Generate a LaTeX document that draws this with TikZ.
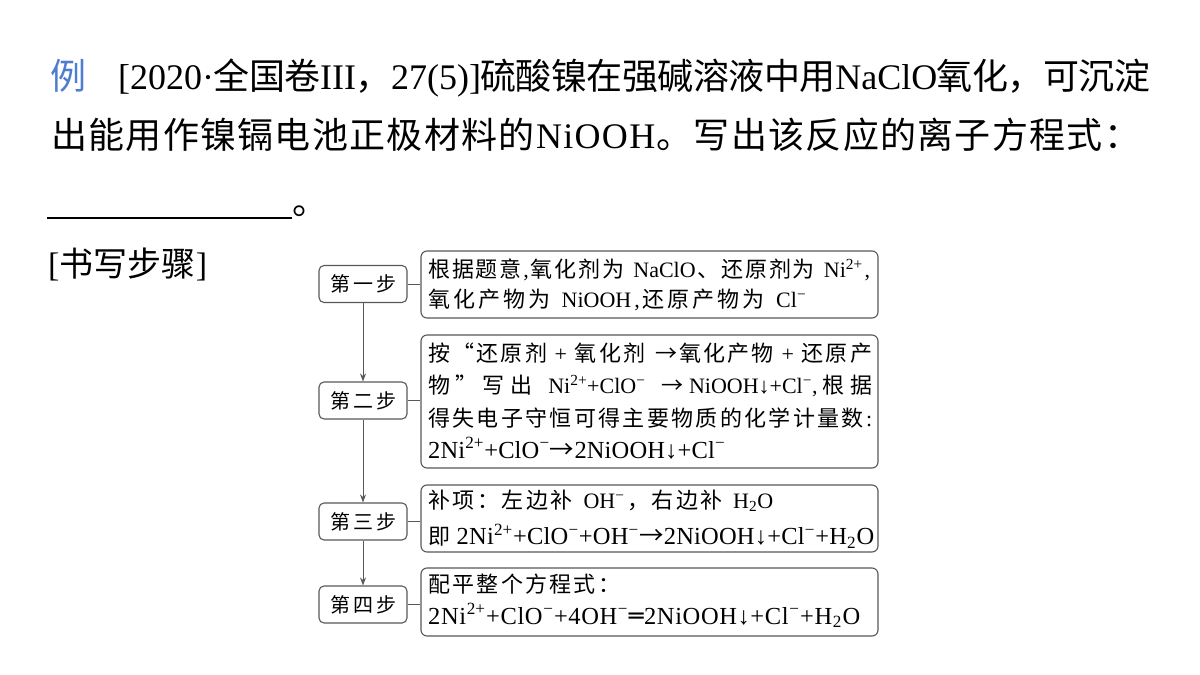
\documentclass[tikz,border=0pt]{standalone}
\usepackage{fontspec}
\setmainfont{Liberation Serif}
\newfontfamily\cjk{Noto Sans CJK SC}
\newfontfamily\djv{DejaVu Sans}
\usetikzlibrary{arrows.meta}
\definecolor{linegray}{RGB}{88,88,88}
\definecolor{liblue}{RGB}{78,124,208}
\let\sprStop\relax
\def\sprStopMark{\sprStop}
\def\sprX#1{\def\sprArg{#1}\ifx\sprArg\sprStopMark\unskip\else{#1}\hskip 0pt plus 1fil minus 1fil\relax\expandafter\sprX\fi}
\newcommand\ltn{\rmfamily}
\newcommand\spx[1]{\textsuperscript{#1}}
\begin{document}
\begin{tikzpicture}[x=1pt,y=-1pt,
  txt/.style={anchor=base west, inner sep=0pt},
  big/.style={font=\cjk\fontsize{36}{40}\selectfont},
  small/.style={font=\cjk\fontsize{22}{26}\selectfont},
  eqn/.style={font=\rmfamily\fontsize{24.5}{28}\selectfont},
  stepbox/.style={draw=linegray, line width=1.1pt, rounded corners=5pt, minimum width=88pt, minimum height=37pt, inner sep=0pt, font=\cjk\fontsize{20}{24}\selectfont},
  infobox/.style={draw=linegray, line width=1.1pt, rounded corners=6pt, minimum width=457pt, inner sep=0pt},
  conn/.style={draw=linegray, line width=1pt},
  arr/.style={conn, -{Stealth[length=8pt,width=6pt]}}]
\useasboundingbox (0,0) rectangle (1200,675);
\fill[white] (0,0) rectangle (1200,675);

% title
\node[txt, big, text=liblue] (li) at (50,89) {例};
\node[txt, big] (t1) at (118,89) {\makebox[1032pt][s]{\sprX{\ltn[2020·}全国卷{\ltn III}，{\ltn 27(5)]}硫酸镍在强碱溶液中用{\ltn NaClO}氧化，可沉淀\sprStop}};
\node[txt, big] (t2) at (51,148) {\makebox[1089pt][s]{\sprX 出能用作镍镉电池正极材料的{\ltn N}{\ltn i}{\ltn O}{\ltn O}{\ltn H}。写出该反应的离子方程式：\sprStop}};
\draw[line width=1.8pt] (47,218) -- (292,218);
\node[txt, big] (dot) at (292,214) {。};
\node[txt, font=\cjk\fontsize{34}{38}\selectfont] (bk) at (48,276) {\makebox[159pt][s]{\sprX{\ltn[}书写步骤{\ltn]}\sprStop}};

% step boxes
\node[stepbox] (s1) at (363,284) {\makebox[66pt][s]{\sprX 第一步\sprStop}};
\node[stepbox] (s2) at (363,400.5) {\makebox[66pt][s]{\sprX 第二步\sprStop}};
\node[stepbox] (s3) at (363,521.5) {\makebox[66pt][s]{\sprX 第三步\sprStop}};
\node[stepbox] (s4) at (363,604.5) {\makebox[66pt][s]{\sprX 第四步\sprStop}};

% info boxes
\node[infobox, minimum height=67pt] (bA) at (649.5,284.5) {};
\node[infobox, minimum height=133pt] (bB) at (649.5,401.5) {};
\node[infobox, minimum height=67pt] (bC) at (649.5,518.5) {};
\node[infobox, minimum height=68pt] (bD) at (649.5,602) {};

% connectors
\draw[arr] (s1) -- (s2);
\draw[arr] (s2) -- (s3);
\draw[arr] (s3) -- (s4);
\draw[conn] (s1.east) -- (s1.east -| bA.west);
\draw[conn] (s2.east) -- (s2.east -| bB.west);
\draw[conn] (s3.east) -- (s3.east -| bC.west);
\draw[conn] (s4.east) -- (s4.east -| bD.west);

% box texts
\node[txt, small] (a1) at (428,277.5) {\makebox[442pt][s]{\sprX 根据题意{\ltn,}氧化剂为{\ltn\ }{\ltn NaClO}、还原剂为{\ltn\ }{\ltn Ni\spx{2+}}{\ltn,}\sprStop}};
\node[txt, small] (a2) at (428,307) {\makebox[378pt][s]{\sprX 氧化产物为{\ltn\ }{\ltn NiOOH}{\ltn,}还原产物为{\ltn\ }{\ltn Cl\spx{−}}\sprStop}};

\node[txt, small] (b1) at (428,361) {\makebox[444pt][s]{\sprX 按“还原剂{\ltn\ +\ }氧化剂{\ltn\ }→氧化产物{\ltn\ +\ }还原产\sprStop}};
\node[txt, small] (b2) at (428,393) {\makebox[444pt][s]{\sprX 物”写出{\ltn\ }{\ltn Ni\spx{2+}+ClO\spx{−}}{\ltn\ }→{\ltn NiOOH↓+Cl\spx{−},}根据\sprStop}};
\node[txt, small] (b3) at (428,426) {\makebox[444pt][s]{\sprX 得失电子守恒可得主要物质的化学计量数{\ltn:}\sprStop}};
\node[txt, eqn] (b4) at (428,458) {\makebox[297pt][s]{\sprX 2Ni{\spx{2+}}+ClO{\spx{−}}{\cjk →}2NiOOH↓+Cl{\spx{−}}\sprStop}};

\node[txt, small] (c1) at (428,508.5) {\makebox[345pt][s]{\sprX 补项：左边补{\ltn\ }{\ltn OH\spx{−}}，右边补{\ltn\ }{\ltn H\textsubscript{2}O}\sprStop}};
\node[txt, eqn] (c2) at (428,544.5) {\makebox[446pt][s]{\sprX{\cjk\fontsize{22}{26}\selectfont 即}{\ }2Ni{\spx{2+}}+ClO{\spx{−}}+OH{\spx{−}}{\cjk →}2NiOOH↓+Cl{\spx{−}}+H{\textsubscript{2}}O\sprStop}};

\node[txt, small] (d1) at (428,592) {\makebox[192pt][s]{\sprX 配平整个方程式：\sprStop}};
\node[txt, eqn] (d2) at (428,624) {\makebox[432pt][s]{\sprX 2Ni{\spx{2+}}+ClO{\spx{−}}+4OH{\spx{−}}{\djv ═}2NiOOH↓+Cl{\spx{−}}+H{\textsubscript{2}}O\sprStop}};
\end{tikzpicture}
\end{document}
